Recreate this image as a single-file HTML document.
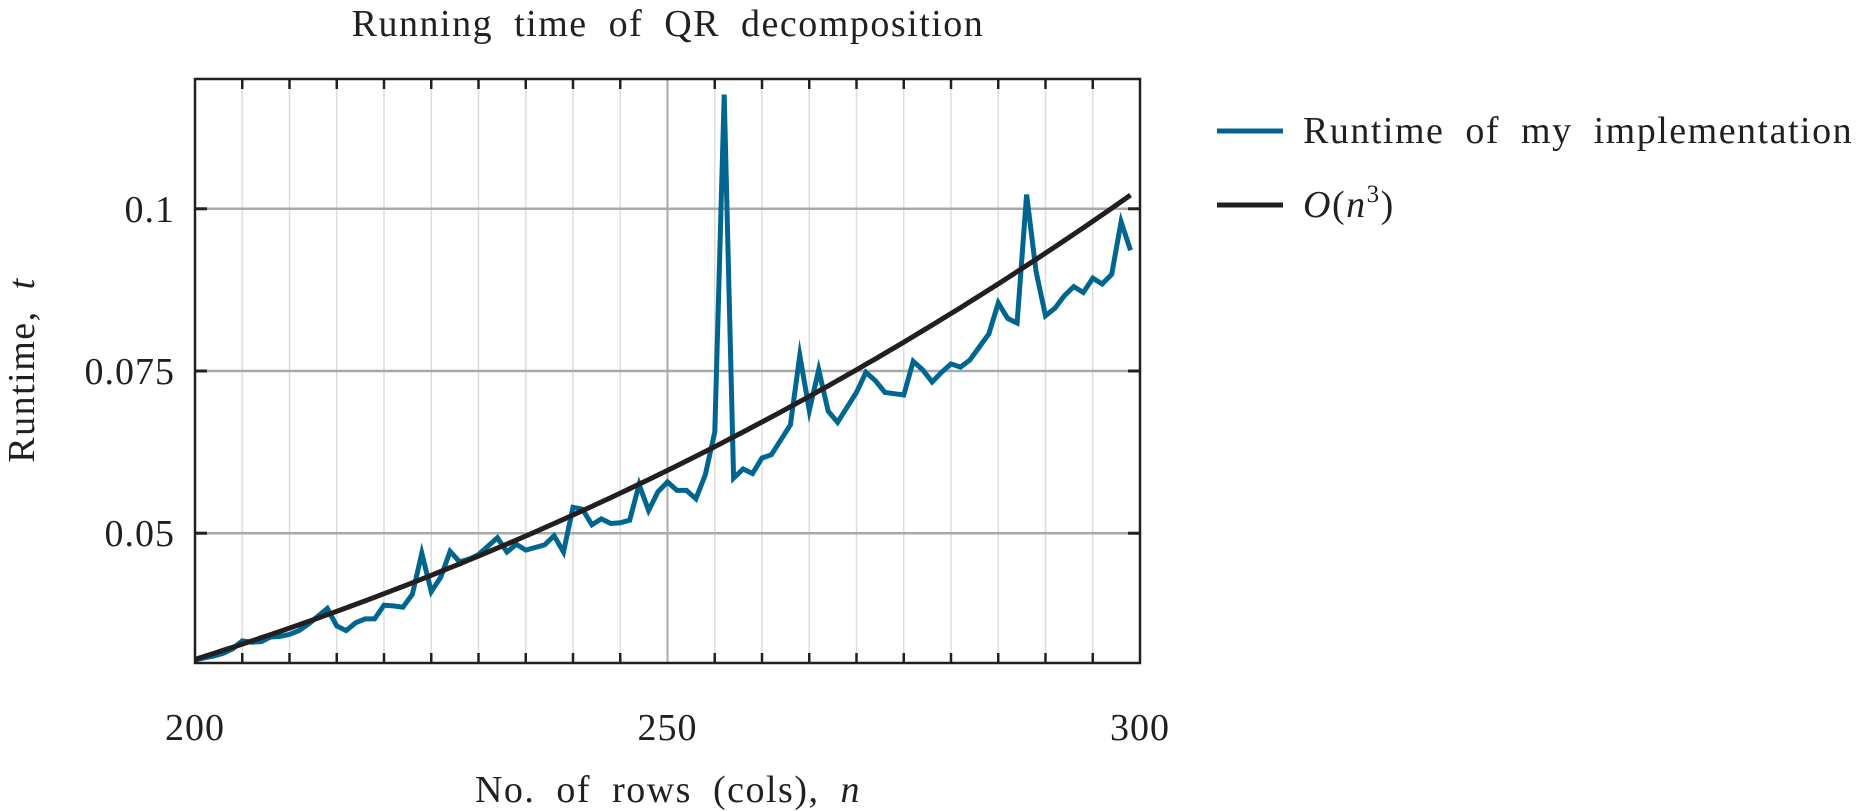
<!DOCTYPE html>
<html><head><meta charset="utf-8"><style>
html,body{margin:0;padding:0;background:#fff;}
svg{display:block;font-family:"Liberation Serif",serif;}
.lbl{letter-spacing:1.5px;word-spacing:10px;}
</style></head><body>
<svg id="chart" width="1871" height="811" viewBox="0 0 1871 811" xmlns="http://www.w3.org/2000/svg">
<text class="lbl" x="668" y="36" font-size="38" text-anchor="middle" fill="#231f20">Running time of QR decomposition</text>
<g id="grid"></g>
<g id="series"></g>
<g id="axes"></g>
<text class="lbl" x="668" y="802" font-size="38" text-anchor="middle" fill="#231f20">No. of rows (cols), <tspan font-style="italic">n</tspan></text>
<text class="lbl" transform="translate(34,370) rotate(-90)" font-size="38" text-anchor="middle" fill="#231f20">Runtime, <tspan font-style="italic">t</tspan></text>
<g>
<line x1="1217" y1="131" x2="1283" y2="131" stroke="#00668f" stroke-width="5"/>
<text class="lbl" x="1303" y="143" font-size="38" fill="#231f20">Runtime of my implementation</text>
<line x1="1217" y1="205" x2="1283" y2="205" stroke="#231f20" stroke-width="5"/>
<text class="lbl" x="1303" y="217" font-size="38" fill="#231f20"><tspan font-style="italic">O</tspan>(<tspan font-style="italic">n</tspan><tspan font-size="25" dy="-15">3</tspan><tspan dy="15">)</tspan></text>
</g>
</svg>
<script>
const ns = [200,201,202,203,204,205,206,207,208,209,210,211,212,213,214,215,216,217,218,219,220,221,222,223,224,225,226,227,228,229,230,231,232,233,234,235,236,237,238,239,240,241,242,243,244,245,246,247,248,249,250,251,252,253,254,255,256,257,258,259,260,261,262,263,264,265,266,267,268,269,270,271,272,273,274,275,276,277,278,279,280,281,282,283,284,285,286,287,288,289,290,291,292,293,294,295,296,297,298,299];
const runtimes = [0.0305,0.0308,0.0311,0.0315,0.0322,0.0334,0.0332,0.0333,0.0340,0.0341,0.0344,0.0350,0.0360,0.0372,0.0384,0.0357,0.0350,0.0362,0.0368,0.0368,0.0389,0.0388,0.0386,0.0406,0.0469,0.0410,0.0432,0.0472,0.0456,0.0460,0.0467,0.0480,0.0493,0.0471,0.0483,0.0474,0.0478,0.0482,0.0496,0.0471,0.0540,0.0537,0.0513,0.0522,0.0515,0.0516,0.0520,0.0575,0.0535,0.0564,0.0579,0.0566,0.0566,0.0553,0.0590,0.0656,0.1176,0.0585,0.0599,0.0592,0.0616,0.0621,0.0644,0.0667,0.0774,0.0689,0.0752,0.0688,0.0671,0.0694,0.0717,0.0748,0.0735,0.0717,0.0715,0.0713,0.0765,0.0752,0.0733,0.0748,0.0761,0.0756,0.0767,0.0787,0.0807,0.0855,0.0831,0.0824,0.1022,0.0903,0.0835,0.0847,0.0866,0.0880,0.0871,0.0893,0.0884,0.0899,0.0980,0.0936];
const cubicCoeff = 3.82e-9;
const xTicks = [200,250,300];
const xMinorTicks = [205,210,215,220,225,230,235,240,245,255,260,265,270,275,280,285,290,295];
const yTicks = [0.05,0.075,0.1];
const yTickLabels = ["0.05","0.075","0.1"];
const xDomain = [200,300], yDomain = [0.03,0.12];

const L=195,R=1140,T=79,B=663;
const X=v=>L+(v-xDomain[0])/(xDomain[1]-xDomain[0])*(R-L);
const Y=v=>B-(v-yDomain[0])/(yDomain[1]-yDomain[0])*(B-T);
const NS="http://www.w3.org/2000/svg";
function mk(tag,attrs,parent){const e=document.createElementNS(NS,tag);for(const k in attrs)e.setAttribute(k,attrs[k]);parent.appendChild(e);return e;}
const grid=document.getElementById('grid'),series=document.getElementById('series'),axes=document.getElementById('axes');

xMinorTicks.forEach(v=>{
  const l=mk('line',{x1:X(v),x2:X(v),y1:T,y2:B,stroke:'#dedede','stroke-width':1.5},grid);
  
  
  [[B,B-10],[T,T+10]].forEach(([a,b])=>{
    const t=mk('line',{x1:X(v),x2:X(v),y1:a,y2:b,stroke:'#231f20','stroke-width':2.5},axes);
    
    
  });
});
xTicks.forEach(v=>{
  const l=mk('line',{x1:X(v),x2:X(v),y1:T,y2:B,stroke:'#a9a9a9','stroke-width':2},grid);
  
  
  const t=mk('text',{x:X(v),y:740,'font-size':38,'text-anchor':'middle',fill:'#231f20','letter-spacing':1},axes);
  t.textContent=v;
  
  
});
yTicks.forEach((v,i)=>{
  const l=mk('line',{x1:L,x2:R,y1:Y(v),y2:Y(v),stroke:'#a9a9a9','stroke-width':2.5},grid);
  
  
  [[L,L+12],[R,R-12]].forEach(([a,b])=>{
    const t=mk('line',{x1:a,x2:b,y1:Y(v),y2:Y(v),stroke:'#231f20','stroke-width':3},axes);
    
    
  });
  const tx=mk('text',{x:175,y:Y(v)+13,'font-size':38,'text-anchor':'end',fill:'#231f20','letter-spacing':1},axes);
  tx.textContent=yTickLabels[i];
  
  
});
const frame=mk('rect',{x:L,y:T,width:R-L,height:B-T,fill:'none',stroke:'#231f20','stroke-width':2.5},axes);



const bp=ns.map((n,i)=>X(n).toFixed(1)+','+Y(runtimes[i]).toFixed(1)).join(' ');
const blue=mk('polyline',{points:bp,fill:'none',stroke:'#00668f','stroke-width':5,'stroke-linejoin':'miter','stroke-miterlimit':10},series);


const cp=ns.map(n=>X(n).toFixed(1)+','+Y(cubicCoeff*n*n*n).toFixed(1)).join(' ');
const black=mk('polyline',{points:cp,fill:'none',stroke:'#231f20','stroke-width':5},series);


</script>
</body></html>
